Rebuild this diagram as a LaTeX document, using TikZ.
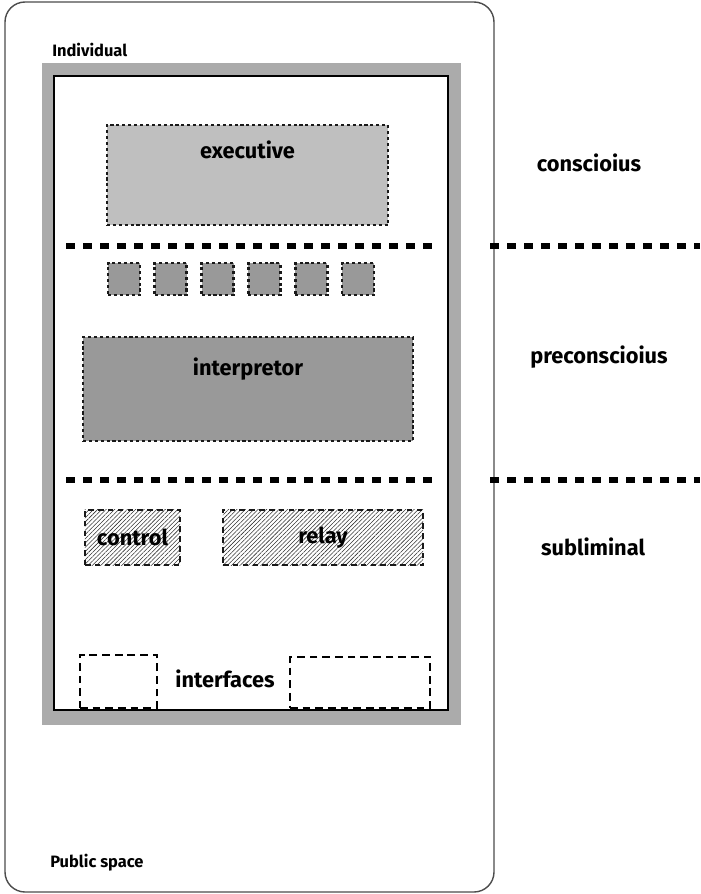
\documentclass[tikz,border=0pt]{standalone}
\usepackage{fontspec}
\setmainfont{Fira Sans}
\usepackage{tikz}
\usetikzlibrary{positioning,patterns}
\tikzset{
  every node/.style={font=\bfseries\fontsize{15.5}{18}\selectfont, inner sep=0pt},
  small/.style={font=\bfseries\fontsize{11.7}{14}\selectfont},
  dotbox/.style={draw=black!90, line width=2pt, dash pattern=on 2.2pt off 2pt},
  hatchbox/.style={draw=black!90, line width=1.8pt, dash pattern=on 4pt off 3pt,
    pattern=north east lines, pattern color=black!80},
  ifacebox/.style={draw=black, line width=1.7pt, dash pattern=on 5.5pt off 3.5pt},
  levelsep/.style={draw=black, line width=3.6pt, dash pattern=on 6.4pt off 5.7pt}
}

\begin{document}
\begin{tikzpicture}[x=0.025cm, y=-0.025cm]
    \useasboundingbox (0,0) rectangle (700,894);
    % public space and individual
    \draw[black!70, line width=1pt, rounded corners=0.5cm] (5,2) rectangle (494,892);
    \fill[black!33] (42,63) rectangle (461,725);
    \filldraw[fill=white, draw=black, line width=1.5pt] (54,76) rectangle (448,710);
    \node[small, anchor=west] (indiv)  at (52,50)  {Individual};
    \node[small, anchor=west] (public) at (50,863) {Public space};

    % boxes
    \node[dotbox, fill=black!25, minimum width=7.025cm, minimum height=2.5cm] (exec) at (247.5,175) {};
    \node (exec_t) at ([yshift=-0.65cm]exec.north) {executive};
    \foreach \i in {0,...,5}
        \node[dotbox, fill=black!40, minimum size=0.8cm] (sq\i) at (124+46.8*\i,279) {};
    \node[dotbox, fill=black!40, minimum width=8.25cm, minimum height=2.6cm] (interp) at (248,389) {};
    \node (interp_t) at ([yshift=-0.825cm]interp.north) {interpretor};
    \node[hatchbox, minimum width=2.375cm, minimum height=1.375cm] (control) at (132.5,537.5) {control};
    \node[hatchbox, minimum width=5cm, minimum height=1.375cm] (relay) at (323,537.5) {relay};
    \node[ifacebox, minimum width=1.925cm, minimum height=1.325cm] (if_l) at (118.5,681.5) {};
    \node[ifacebox, minimum width=3.5cm, minimum height=1.275cm] (if_r) at (360,682.5) {};
    \node (iface) at (225,679) {interfaces};

    % levels
    \coordinate (s1a) at (66,246);  \coordinate (s1b) at (436,246);
    \coordinate (s1c) at (490,246); \coordinate (s1d) at (700,246);
    \coordinate (s2a) at (66,480);  \coordinate (s2b) at (436,480);
    \coordinate (s2c) at (490,480); \coordinate (s2d) at (700,480);
    \draw[levelsep] (s1a) -- (s1b) (s1c) -- (s1d);
    \draw[levelsep] (s2a) -- (s2b) (s2c) -- (s2d);
    \node (consc)    at (589,163) {conscioius};
    \node (preconsc) at (599,357) {preconscioius};
    \node (sublim)   at (593,547) {subliminal};
\end{tikzpicture}
\end{document}
